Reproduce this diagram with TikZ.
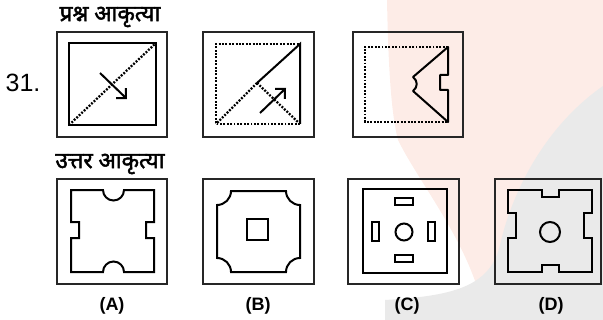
\documentclass[tikz,border=0pt]{standalone}
\usepackage{fontspec}
\setmainfont{Liberation Sans}
\newfontfamily\hindifont[Script=Devanagari,FakeBold=2]{Noto Sans}
\usetikzlibrary{arrows.meta}
\definecolor{wmpink}{RGB}{253,236,231}
\definecolor{wmgray}{RGB}{234,234,234}

\begin{document}
\begin{tikzpicture}[x=0.5pt,y=-0.5pt,
 frame/.style={line width=1.4pt,black!85},
 fig/.style={line width=1pt,black},
 dots/.style={line width=1.15pt,dash pattern=on 0.95pt off 0.75pt},
 arr/.style={fig,-{Straight Barb[length=3.5pt,width=7pt]}},
 lbl/.style={font=\fontsize{9}{10}\selectfont\bfseries},
 head/.style={font=\hindifont\fontsize{11.3}{13}\selectfont}]
\useasboundingbox (0,0) rectangle (603,320);
% ---------- watermark
\fill[wmpink] (387,0) -- (603,0) -- (603,320) -- (485,320)
 .. controls (475,250) and (420,185) .. (398,140) .. controls (390,110) and (388,50) .. (387,0) -- cycle;
\fill[wmgray] (385,320) -- (385,300) .. controls (450,296) and (490,288) .. (500,245)
 .. controls (510,200) and (540,130) .. (603,86) -- (603,320) -- cycle;
% ---------- question figures
\node[head] (qhead) at (110,17) {प्रश्न आकृत्या};
\node[font=\fontsize{12.5}{14}\selectfont] (qnum) at (23,83) {31.};
\foreach \x/\w in {57/110,203/111,353/110}
 \draw[frame] (\x,32) rectangle ++(\w,105);
% fig 1
\draw[fig] (69,43) rectangle (156,125);
\draw[dots] (69,125) -- (156,43);
\draw[arr] (100,73) -- (127,99);
% fig 2
\draw[dots] (300,124) -- (216,124) -- (216,44) -- (300,44);
\draw[fig] (300,124) -- (300,44) -- (257,83);
\draw[dots] (257,83) -- (216,124);
\draw[dots] (257,83) -- (300,124);
\draw[arr] (260,113) -- (286,88);
% fig 3
\draw[dots] (448,47) -- (365,47) -- (365,122) -- (448,122);
\draw[fig,line join=round] (448,47) -- (448,75) -- (440,75) -- (440,90) -- (448,90) -- (448,122)
 -- (413,91) .. controls (418,87) and (418,81) .. (413,77) -- cycle;
% ---------- answer figures
\node[head] (ahead) at (110,164) {उत्तर आकृत्या};
\foreach \x/\w in {57/110,203/111,348/111,495/106}
 \draw[frame] (\x,179) rectangle ++(\w,105);
% A
\draw[fig] (71,190) -- (103,190) arc[start angle=180,end angle=0,radius=10.5] -- (154,190)
 -- (154,222) -- (146,222) -- (146,238) -- (154,238) -- (154,272)
 -- (124,272) arc[start angle=0,end angle=-180,radius=10.5] -- (71,272)
 -- (71,238) -- (79,238) -- (79,222) -- (71,222) -- cycle;
\node[lbl] (optA) at (112,306) {(A)};
% B
\draw[fig] (231,191) -- (286,191) arc[start angle=180,end angle=90,radius=14]
 -- (300,258) arc[start angle=270,end angle=180,radius=14]
 -- (231,272) arc[start angle=0,end angle=-90,radius=14]
 -- (217,205) arc[start angle=90,end angle=0,radius=14] -- cycle;
\draw[fig] (247,219) rectangle (268,240);
\node[lbl] (optB) at (258,306) {(B)};
% C
\draw[fig] (363,189) rectangle (447,273);
\draw[fig] (404,232) circle[radius=8.5];
\draw[fig] (395,198) rectangle (413,205);
\draw[fig] (395,255) rectangle (413,262);
\draw[fig] (372,222) rectangle (379,241);
\draw[fig] (428,222) rectangle (435,241);
\node[lbl] (optC) at (407,306) {(C)};
% D
\draw[fig] (508,190) -- (542,190) -- (542,197) -- (559,197) -- (559,190) -- (592,190)
 -- (592,213) -- (584,213) -- (584,238) -- (592,238) -- (592,272)
 -- (559,272) -- (559,265) -- (542,265) -- (542,272) -- (508,272)
 -- (508,238) -- (516,238) -- (516,213) -- (508,213) -- cycle;
\draw[fig] (550,232) circle[radius=10];
\node[lbl] (optD) at (551,306) {(D)};
\end{tikzpicture}
\end{document}
